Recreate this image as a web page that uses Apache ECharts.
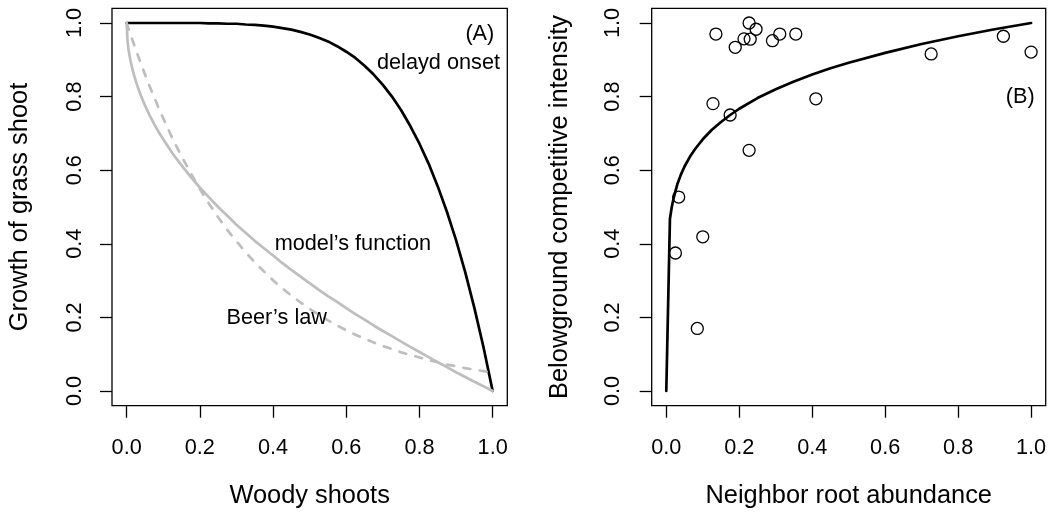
<!DOCTYPE html>
<html>
<head>
<meta charset="utf-8">
<script src="https://cdn.jsdelivr.net/npm/echarts@6/dist/echarts.min.js"></script>
<style>
  html, body { margin: 0; padding: 0; background: #ffffff; }
  #chart { width: 1051px; height: 514px; }
</style>
</head>
<body>
<div id="chart"></div>
<script>
// Tick positions shared by both panels
const tickValues = [0, 0.2, 0.4, 0.6, 0.8, 1.0];

// Panel A: growth of grass shoots against woody shoot cover
const woodyX = [0, 0.0025, 0.005, 0.01, 0.015, 0.02, 0.03, 0.04, 0.05, 0.0625, 0.075, 0.0875, 0.1, 0.125,
  0.15, 0.175, 0.2, 0.225, 0.25, 0.275, 0.3, 0.325, 0.35, 0.375, 0.4, 0.425, 0.45, 0.475, 0.5,
  0.525, 0.55, 0.575, 0.6, 0.625, 0.65, 0.675, 0.7, 0.725, 0.75, 0.775, 0.8, 0.825, 0.85, 0.875,
  0.9, 0.925, 0.95, 0.975, 1];
const delayedOnset = [1, 1, 1, 1, 1, 1, 1, 1, 1, 1, 1, 1, 1, 1,
  1, 1, 1, 0.999, 0.999, 0.998, 0.998, 0.996, 0.995, 0.993, 0.990, 0.986, 0.982, 0.976, 0.969,
  0.960, 0.950, 0.937, 0.922, 0.905, 0.884, 0.860, 0.832, 0.800, 0.763, 0.720, 0.672, 0.618, 0.556, 0.487,
  0.410, 0.323, 0.226, 0.119, 0];
const modelFunction = [1, 0.950, 0.929, 0.900, 0.878, 0.859, 0.827, 0.800, 0.776, 0.750, 0.726, 0.704, 0.684, 0.646,
  0.613, 0.582, 0.553, 0.526, 0.500, 0.476, 0.452, 0.430, 0.408, 0.388, 0.368, 0.348, 0.329, 0.311, 0.293,
  0.275, 0.258, 0.242, 0.225, 0.209, 0.194, 0.178, 0.163, 0.149, 0.134, 0.120, 0.106, 0.092, 0.078, 0.065,
  0.051, 0.038, 0.025, 0.013, 0];
const beersLaw = [1, 0.993, 0.985, 0.970, 0.956, 0.942, 0.914, 0.887, 0.861, 0.829, 0.799, 0.769, 0.741, 0.687,
  0.638, 0.592, 0.549, 0.509, 0.472, 0.438, 0.407, 0.377, 0.350, 0.325, 0.301, 0.279, 0.259, 0.241, 0.223,
  0.207, 0.192, 0.178, 0.165, 0.153, 0.142, 0.132, 0.122, 0.114, 0.105, 0.098, 0.091, 0.084, 0.078, 0.072,
  0.067, 0.062, 0.058, 0.054, 0.050];

// Panel B: belowground competitive intensity against neighbour root abundance
const rootCurveX = [0, 0.01, 0.015, 0.02, 0.03, 0.04, 0.05, 0.065, 0.08, 0.1, 0.125, 0.15, 0.175, 0.2,
  0.25, 0.3, 0.35, 0.4, 0.45, 0.5, 0.6, 0.7, 0.8, 0.9, 1.0];
const rootCurveY = [0, 0.468, 0.500, 0.524, 0.561, 0.588, 0.610, 0.637, 0.659, 0.684, 0.710, 0.731, 0.750, 0.767,
  0.796, 0.820, 0.841, 0.860, 0.877, 0.892, 0.919, 0.943, 0.964, 0.983, 1.0];
const rootObsX = [0.136, 0.128, 0.189, 0.213, 0.227, 0.230, 0.246, 0.291, 0.311, 0.355,
  0.175, 0.227, 0.410, 0.034, 0.100, 0.025, 0.085, 0.726, 0.924, 1.0];
const rootObsY = [0.970, 0.781, 0.934, 0.957, 1.000, 0.956, 0.983, 0.952, 0.970, 0.970,
  0.750, 0.654, 0.794, 0.527, 0.419, 0.375, 0.170, 0.916, 0.964, 0.921];

const FONT = '"Liberation Sans", Arial, Helvetica, sans-serif';
const GREY = '#bebebe';

const zip = (xs, ys) => xs.map((x, i) => [x, ys[i]]);

function valueAxis(gridIndex, name, isY, labelMargin) {
  return {
    type: 'value',
    gridIndex: gridIndex,
    min: -0.04,
    max: 1.04,
    name: name,
    nameLocation: 'middle',
    nameGap: isY ? 79.5 : 78,
    nameTextStyle: { fontFamily: FONT, fontSize: 25.4, color: '#000' },
    axisLine: { show: false, onZero: false },
    splitLine: { show: false },
    axisTick: {
      show: true, inside: false, length: 12,
      customValues: tickValues,
      lineStyle: { color: '#000', width: 1.3 }
    },
    axisLabel: {
      show: true,
      customValues: tickValues,
      rotate: isY ? 90 : 0,
      margin: labelMargin,
      fontFamily: FONT, fontSize: 21.7, color: '#000',
      formatter: v => v.toFixed(1)
    }
  };
}

function textMarks(xAxisIndex, yAxisIndex, items) {
  return {
    type: 'scatter',
    xAxisIndex: xAxisIndex, yAxisIndex: yAxisIndex,
    symbolSize: 0,
    silent: true,
    z: 10,
    itemStyle: { opacity: 1 },
    data: items.map(t => ({ value: [t[0], t[1]], name: t[2] })),
    label: {
      show: true, position: 'inside',
      formatter: p => p.name,
      fontFamily: FONT, fontSize: 21.7, color: '#000',
      textBorderWidth: 0
    }
  };
}

function curve(xAxisIndex, yAxisIndex, xs, ys, color, dashed) {
  return {
    type: 'line', xAxisIndex: xAxisIndex, yAxisIndex: yAxisIndex,
    data: zip(xs, ys),
    showSymbol: false, smooth: false,
    lineStyle: { color: color, width: 2.7, cap: 'round', join: 'round', type: dashed ? [7, 9.5] : 'solid' }
  };
}

const chart = echarts.init(document.getElementById('chart'), null, { renderer: 'canvas' });

chart.setOption({
  animation: false,
  backgroundColor: '#ffffff',
  grid: [
    { left: 112, top: 8.3, width: 395.3, height: 397.4, show: true, borderColor: '#000', borderWidth: 1.3, backgroundColor: 'transparent' },
    { left: 651.7, top: 8.3, width: 394, height: 397.4, show: true, borderColor: '#000', borderWidth: 1.3, backgroundColor: 'transparent' }
  ],
  xAxis: [
    valueAxis(0, 'Woody shoots', false, 31.5),
    valueAxis(1, 'Neighbor root abundance', false, 31.5)
  ],
  yAxis: [
    valueAxis(0, 'Growth of grass shoot', true, 25.5),
    valueAxis(1, 'Belowground competitive intensity', true, 27.5)
  ],
  series: [
    curve(0, 0, woodyX, delayedOnset, '#000', false),
    curve(0, 0, woodyX, modelFunction, GREY, false),
    curve(0, 0, woodyX, beersLaw, GREY, true),
    textMarks(0, 0, [
      [0.965, 0.97, '(A)'],
      [0.852, 0.891, 'delayd onset'],
      [0.618, 0.40, 'model\u2019s function'],
      [0.41, 0.197, 'Beer\u2019s law']
    ]),
    {
      type: 'scatter', xAxisIndex: 1, yAxisIndex: 1,
      data: zip(rootObsX, rootObsY),
      symbol: 'circle', symbolSize: 12,
      itemStyle: { color: 'rgba(0,0,0,0)', borderColor: '#000', borderWidth: 1.3, opacity: 1 }
    },
    curve(1, 1, rootCurveX, rootCurveY, '#000', false),
    textMarks(1, 1, [
      [0.97, 0.80, '(B)']
    ])
  ]
});
</script>
</body>
</html>
